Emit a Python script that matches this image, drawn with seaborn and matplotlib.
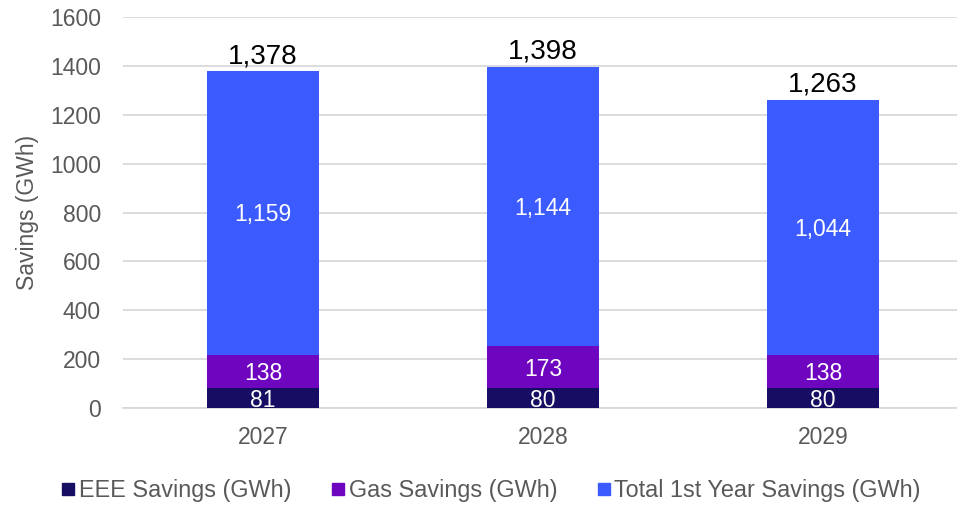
import numpy as np
import pandas as pd
import matplotlib.pyplot as plt
import seaborn as sns
from matplotlib.lines import Line2D

years = ['2027', '2028', '2029']
eee_savings = [81, 80, 80]
gas_savings = [138, 173, 138]
first_year_savings = [1159, 1144, 1044]
total_labels = [1378, 1398, 1263]

series_names = ['EEE Savings (GWh)', 'Gas Savings (GWh)', 'Total 1st Year Savings (GWh)']
colors = ['#160e62', '#6e06bf', '#3b5bff']

df = pd.DataFrame({'year': years, 'eee': eee_savings, 'gas': gas_savings, 'first': first_year_savings})
df['top_eee'] = df['eee']
df['top_gas'] = df['eee'] + df['gas']
df['top_first'] = df['eee'] + df['gas'] + df['first']

sns.set_style('white')
plt.rcParams['font.family'] = ['Liberation Sans', 'DejaVu Sans']

fig = plt.figure(figsize=(9.57, 5.05), dpi=100)
ax = fig.add_axes([0.1285, 0.192, 0.875, 0.774])

# stacked bars drawn as overlaid cumulative heights, tallest first
for col, c in zip(['top_first', 'top_gas', 'top_eee'], colors[::-1]):
    sns.barplot(data=df, x='year', y=col, color=c, width=0.4, saturation=1,
                edgecolor='none', linewidth=0, ax=ax, zorder=3)

# segment labels
for i in range(len(years)):
    segs = [(0, df['eee'][i]), (df['top_eee'][i], df['gas'][i]), (df['top_gas'][i], df['first'][i])]
    for base, h in segs:
        ax.text(i, base + h / 2 - 8, f'{h:,}', ha='center', va='center', color='white', fontsize=16.5, zorder=5)
    ax.text(i, df['top_first'][i] + 8, f'{total_labels[i]:,}', ha='center', va='bottom',
            color='black', fontsize=20, zorder=5)

ax.set_ylim(0, 1600)
ax.set_yticks(np.arange(0, 1601, 200))
ax.set_xlim(-0.5, 2.49)
ax.grid(axis='y', color='#d9d9d9', linewidth=1.3, zorder=0)
ax.set_axisbelow(True)
sns.despine(ax=ax, left=True, right=True, top=True)
ax.spines['bottom'].set_color('#d9d9d9')
ax.spines['bottom'].set_linewidth(1.3)
ax.tick_params(axis='both', length=0, labelsize=16.5, labelcolor='#595959', pad=13)
ax.tick_params(axis='y', pad=16)
ax.set_xlabel('')
ax.set_ylabel('Savings (GWh)', fontsize=16.5, color='#595959', labelpad=8)

handles = [Line2D([], [], marker='s', linestyle='none', markersize=9, color=c) for c in colors]
fig.legend(handles, series_names, loc='lower center', bbox_to_anchor=(0.512, -0.035), ncol=3,
           frameon=False, fontsize=16.8, labelcolor='#595959', handletextpad=0.05,
           columnspacing=1.6, handlelength=0.8)

fig.savefig('out.png', dpi=100)
